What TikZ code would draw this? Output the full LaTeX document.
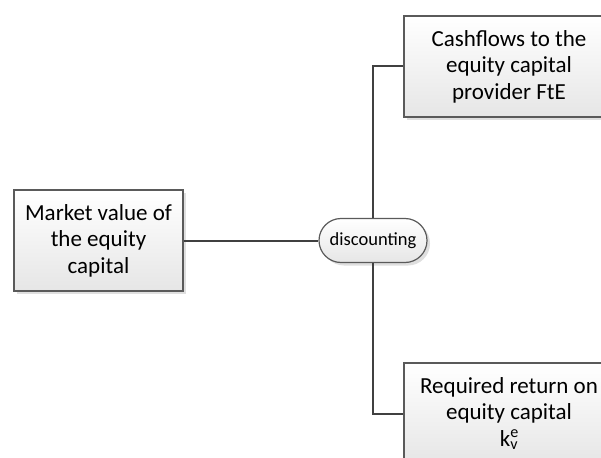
\documentclass[tikz,border=0pt]{standalone}
\usepackage{fontspec}
\setmainfont{Carlito}
\usetikzlibrary{shadows,shapes.misc}
\definecolor{edgegrey}{HTML}{404040}
\definecolor{framegrey}{HTML}{5A5A5A}
\definecolor{fillbottom}{HTML}{E6E6E6}
\tikzset{
  infobox/.style={draw=framegrey, line width=1.2pt, top color=white, bottom color=fillbottom,
    minimum height=101pt, align=center, inner sep=0pt,
    font=\fontsize{23}{26.5}\selectfont,
    drop shadow={shadow xshift=3pt, shadow yshift=-3pt, fill=black!25}},
  opnode/.style={draw=framegrey, line width=1.2pt, rounded rectangle, top color=white, bottom color=fillbottom,
    minimum width=108pt, minimum height=44pt, inner sep=0pt,
    font=\fontsize{18.5}{22}\selectfont,
    drop shadow={shadow xshift=3pt, shadow yshift=-3pt, fill=black!25}},
  link/.style={draw=edgegrey, line width=2pt}
}
\begin{document}
\begin{tikzpicture}[x=1pt, y=-1pt]
  \useasboundingbox (0,0) rectangle (601,457);
  \clip (0,0) rectangle (601,457);
  \node[infobox, minimum width=169pt] (mv) at (98.5,240.5) {Market value of\\the equity\\capital};
  \node[opnode] (disc) at (373,240.5) {discounting};
  \node[infobox, minimum width=210pt] (cf) at (509,66.5) {Cashflows to the\\equity capital\\provider FtE};
  \node[infobox, minimum width=210pt] (rr) at (509,413.5) {Required return on\\equity capital\\k\rlap{\textsuperscript{e}}\textsubscript{v}};
  \draw[link] (mv.east) -- (disc.west);
  \draw[link] (disc.north) |- (cf.west);
  \draw[link] (disc.south) |- (rr.west);
\end{tikzpicture}
\end{document}
